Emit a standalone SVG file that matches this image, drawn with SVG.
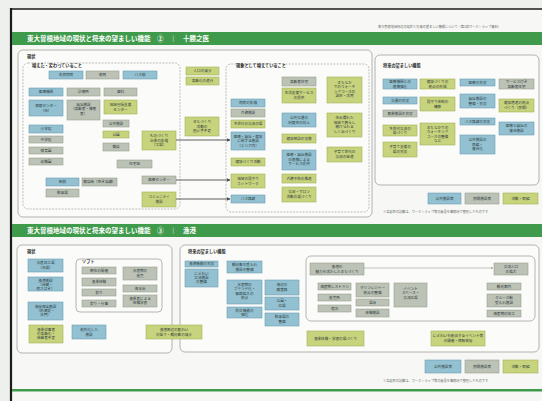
<svg xmlns="http://www.w3.org/2000/svg" width="542" height="401" viewBox="0 0 542 401">
  <style>
    .page { fill: #f7f8f6; }
    .frame { stroke: #1b1b1b; fill: none; }
    .bar { fill: #3f9b4b; }
    .bar-title { fill: #ffffff; font-family: "Noto Sans CJK JP", "Noto Sans", sans-serif; font-size: 6.5px; font-weight: bold; }
    .panel { fill: #fbfbfa; stroke: #a9aca6; stroke-width: 0.9; }
    .dash { fill: none; stroke: #a3a6a0; stroke-width: 0.7; stroke-dasharray: 2 1.2; }
    .inner { fill: none; stroke: #a3a6a0; stroke-width: 0.8; }
    .plabel { fill: #2b2b2b; font-family: "Noto Sans CJK JP", sans-serif; font-size: 4.2px; font-weight: bold; }
    .b rect { fill: #93c1d1; stroke: #6d9fb4; stroke-width: 0.6; }
    .g rect { fill: #bcc2b6; stroke: #98a08f; stroke-width: 0.6; }
    .y rect { fill: #c8d37d; stroke: #a5b257; stroke-width: 0.6; }
    .node text { fill: #2d3a3c; font-family: "Noto Sans CJK JP", sans-serif; font-size: 3.6px; text-anchor: middle; }
    .note { fill: #666a64; font-family: "Noto Sans CJK JP", sans-serif; font-size: 3.2px; }
    .conn { stroke: #4a4f4c; stroke-width: 0.9; fill: none; }
    .conn-thin { stroke: #9aa096; stroke-width: 0.6; fill: none; }
  </style>
  <defs>
    <marker id="arrow" viewBox="0 0 6 6" refX="5.5" refY="3" markerWidth="4" markerHeight="4" orient="auto">
      <path d="M0,0 L6,3 L0,6 z" fill="#4a4f4c"/>
    </marker>
    <marker id="arrow-thin" viewBox="0 0 6 6" refX="5.5" refY="3" markerWidth="4" markerHeight="4" orient="auto">
      <path d="M0,0 L6,3 L0,6 z" fill="#9aa096"/>
    </marker>
  </defs>

  <!-- sheet -->
  <rect x="0" y="0" width="542" height="401" fill="#eef0ee"/>
  <rect class="page" x="12" y="9" width="530" height="392"/>
  <line class="frame" x1="11" y1="8" x2="11" y2="401" stroke-width="2.2"/>
  <line class="frame" x1="11" y1="9" x2="542" y2="9" stroke-width="1.6"/>
  <text class="note" x="378" y="28">東大曽根地域周辺の現状と将来の望ましい機能について（第1回ワークショップ資料）</text>

  <!-- ===== section ② ===== -->
  <rect class="bar" x="12" y="32" width="530" height="13"/>
  <text class="bar-title" x="27" y="41">東大曽根地域の現状と将来の望ましい機能　②　｜　十勝之医</text>

  <rect class="panel" x="18" y="50" width="354" height="167" rx="5"/>
  <text class="plabel" x="27" y="58">現状</text>
  <rect class="dash" x="23" y="63" width="157" height="146" rx="5"/>
  <text class="plabel" x="32" y="66.5" font-weight="normal">増えた・変わっていること</text>
  <rect class="dash" x="226" y="64" width="143" height="148" rx="5"/>
  <text class="plabel" x="236" y="66.5" font-weight="normal">現象として増えていること</text>

  <rect class="panel" x="375" y="55" width="164" height="130" rx="5"/>
  <text class="plabel" x="383" y="67">将来の望ましい機能</text>

  <!-- current state, left group -->
  <g id="s2-n1" class="node b"><rect x="49" y="71" width="34" height="8"/><text x="66" y="76.3">市民病院</text></g>
  <g id="s2-n2" class="node g"><rect x="86" y="71" width="33" height="8"/><text x="102.5" y="76.3">薬局</text></g>
  <g id="s2-n3" class="node b"><rect x="123" y="71" width="34" height="8"/><text x="140" y="76.3">バス停</text></g>
  <g id="s2-n4" class="node b"><rect x="29" y="88" width="34" height="8"/><text x="46" y="93.3">医療機関</text></g>
  <g id="s2-n5" class="node g"><rect x="67" y="88" width="33" height="8"/><text x="83.5" y="93.3">診療所</text></g>
  <g id="s2-n6" class="node g"><rect x="104" y="88" width="33" height="8"/><text x="120.5" y="93.3">歯科</text></g>
  <g id="s2-n7" class="node b"><rect x="29" y="100" width="34" height="16"/><text x="46" y="106.5">保健センター</text><text x="46" y="111.5">（市）</text></g>
  <g id="s2-n8" class="node g"><rect x="67" y="100" width="33" height="20"/><text x="83.5" y="105.5">福祉施設</text><text x="83.5" y="110.3">（高齢者・障害</text><text x="83.5" y="115.1">者）</text></g>
  <g id="s2-n9" class="node y"><rect x="104" y="100" width="33" height="14"/><text x="120.5" y="105.8">地域包括支援</text><text x="120.5" y="110.6">センター</text></g>
  <g id="s2-n10" class="node g"><rect x="103" y="120" width="26" height="7"/><text x="116" y="124.8">公共施設</text></g>
  <g id="s2-n11" class="node y"><rect x="103" y="131" width="26" height="7"/><text x="116" y="135.8">公園</text></g>
  <g id="s2-n12" class="node g"><rect x="103" y="143" width="26" height="8"/><text x="116" y="148.3">商店</text></g>
  <g id="s2-n13" class="node b"><rect x="29" y="125" width="34" height="8"/><text x="46" y="130.3">小学校</text></g>
  <g id="s2-n14" class="node g"><rect x="29" y="136" width="34" height="7"/><text x="46" y="140.8">中学校</text></g>
  <g id="s2-n15" class="node g"><rect x="29" y="147" width="34" height="7"/><text x="46" y="151.8">保育園</text></g>
  <g id="s2-n16" class="node g"><rect x="29" y="158" width="34" height="7"/><text x="46" y="162.8">幼稚園</text></g>
  <g id="s2-n17" class="node g"><rect x="117" y="160" width="35" height="8"/><text x="134.5" y="165.3">住宅地</text></g>
  <g id="s2-n18" class="node b"><rect x="46" y="178" width="33" height="8"/><text x="62.5" y="183.3">駅前</text></g>
  <g id="s2-n19" class="node g"><rect x="82" y="178" width="35" height="8"/><text x="99.5" y="183.3">商店街（空き店舗）</text></g>
  <g id="s2-n20" class="node g"><rect x="46" y="189" width="33" height="8"/><text x="62.5" y="194.3">駐車場</text></g>
  <g id="s2-n21" class="node y"><rect x="142" y="131" width="34" height="19"/><text x="159" y="137">ものづくり</text><text x="159" y="141.5">企業の集積</text><text x="159" y="146">（工場）</text></g>
  <g id="s2-n22" class="node g"><rect x="142" y="176" width="34" height="8"/><text x="159" y="181.3">医療センター</text></g>
  <g id="s2-n23" class="node y"><rect x="142" y="192" width="34" height="15"/><text x="159" y="198.3">コミュニティ</text><text x="159" y="203">施設</text></g>

  <!-- current state, between the groups -->
  <g id="s2-m1" class="node y"><rect x="186" y="67" width="33" height="8"/><text x="202.5" y="72.3">人口の減少</text></g>
  <g id="s2-m2" class="node y"><rect x="186" y="77" width="33" height="8"/><text x="202.5" y="82.3">高齢化の進行</text></g>
  <g id="s2-m3" class="node y"><rect x="185" y="117" width="34" height="19"/><text x="202" y="123">まちづくり</text><text x="202" y="127.5">活動の</text><text x="202" y="132">担い手不足</text></g>

  <!-- current state, right group -->
  <g id="s2-r1" class="node b"><rect x="231" y="99" width="34" height="8"/><text x="248" y="104.3">病院の集積</text></g>
  <g id="s2-r2" class="node g"><rect x="231" y="109" width="34" height="8"/><text x="248" y="114.3">介護施設</text></g>
  <g id="s2-r3" class="node y"><rect x="231" y="120" width="34" height="8"/><text x="248" y="125.3">多世代の交流の場</text></g>
  <g id="s2-r4" class="node b"><rect x="231" y="132" width="34" height="18"/><text x="248" y="137.8">医療・福祉・健康</text><text x="248" y="142.3">に関する施設</text><text x="248" y="146.8">（エリア内）</text></g>
  <g id="s2-r5" class="node y"><rect x="231" y="158" width="34" height="8"/><text x="248" y="163.3">健康づくり活動</text></g>
  <g id="s2-r6" class="node y"><rect x="231" y="174" width="34" height="14"/><text x="248" y="179.8">地域の見守り</text><text x="248" y="184.6">ネットワーク</text></g>
  <g id="s2-r7" class="node b"><rect x="231" y="195" width="34" height="8"/><text x="248" y="200.3">バス路線</text></g>
  <g id="s2-r8" class="node g"><rect x="282" y="77" width="34" height="9"/><text x="299" y="82.8">高齢者住宅</text></g>
  <g id="s2-r9" class="node y"><rect x="282" y="88" width="34" height="15"/><text x="299" y="94.3">生活支援サービス</text><text x="299" y="99">の提供</text></g>
  <g id="s2-r10" class="node b"><rect x="282" y="113" width="34" height="14"/><text x="299" y="118.8">公共交通の</text><text x="299" y="123.6">利便性の向上</text></g>
  <g id="s2-r11" class="node y"><rect x="282" y="134" width="34" height="9"/><text x="299" y="139.8">健康相談の実施</text></g>
  <g id="s2-r12" class="node b"><rect x="282" y="150" width="34" height="20"/><text x="299" y="156">医療・福祉施設</text><text x="299" y="160.5">の連携による</text><text x="299" y="165">サービス提供</text></g>
  <g id="s2-r13" class="node y"><rect x="282" y="174" width="34" height="9"/><text x="299" y="179.8">介護予防の推進</text></g>
  <g id="s2-r14" class="node y"><rect x="282" y="187" width="34" height="15"/><text x="299" y="193.3">交流・サロン</text><text x="299" y="198">活動の場づくり</text></g>
  <g id="s2-r15" class="node y"><rect x="327" y="77" width="35" height="26"/><text x="344.5" y="83.5">まちなか</text><text x="344.5" y="88">でのウォーキ</text><text x="344.5" y="92.5">ングコースの</text><text x="344.5" y="97">設定・活用</text></g>
  <g id="s2-r16" class="node y"><rect x="327" y="113" width="35" height="24"/><text x="344.5" y="119">住み慣れた</text><text x="344.5" y="123.5">地域で暮らし</text><text x="344.5" y="128">続けられる</text><text x="344.5" y="132.5">しくみづくり</text></g>
  <g id="s2-r17" class="node y"><rect x="327" y="147" width="35" height="15"/><text x="344.5" y="153.3">子育て世代の</text><text x="344.5" y="158">交流の促進</text></g>

  <!-- desirable functions -->
  <g id="s2-f1" class="node b"><rect x="383" y="79" width="34" height="10"/><text x="400" y="83.3">医療機関との</text><text x="400" y="87.6">連携強化</text></g>
  <g id="s2-f2" class="node y"><rect x="420" y="79" width="35" height="10"/><text x="437.5" y="83.3">健康づくりの</text><text x="437.5" y="87.6">拠点の形成</text></g>
  <g id="s2-f3" class="node b"><rect x="460" y="79" width="35" height="7"/><text x="477.5" y="83.8">医療の充実</text></g>
  <g id="s2-f4" class="node g"><rect x="499" y="79" width="35" height="10"/><text x="516.5" y="83.3">サービス付き</text><text x="516.5" y="87.6">高齢者住宅</text></g>
  <g id="s2-f5" class="node b"><rect x="383" y="97" width="34" height="7"/><text x="400" y="101.8">交通の充実</text></g>
  <g id="s2-f6" class="node y"><rect x="420" y="97" width="35" height="14"/><text x="437.5" y="102.8">見守り体制の</text><text x="437.5" y="107.6">構築</text></g>
  <g id="s2-f7" class="node b"><rect x="460" y="94" width="35" height="14"/><text x="477.5" y="99.8">福祉施設の</text><text x="477.5" y="104.6">整備・充実</text></g>
  <g id="s2-f8" class="node y"><rect x="499" y="99" width="35" height="13"/><text x="516.5" y="104.3">健康増進の拠点</text><text x="516.5" y="108.8">づくり（民間）</text></g>
  <g id="s2-f9" class="node g"><rect x="383" y="110" width="34" height="7"/><text x="400" y="114.8">商業施設の充実</text></g>
  <g id="s2-f10" class="node b"><rect x="460" y="118" width="35" height="7"/><text x="477.5" y="122.8">バス路線の充実</text></g>
  <g id="s2-f11" class="node y"><rect x="383" y="125" width="34" height="11"/><text x="400" y="129.6">多世代交流の</text><text x="400" y="134">場づくり</text></g>
  <g id="s2-f12" class="node y"><rect x="420" y="123" width="35" height="22"/><text x="437.5" y="128.8">まちなかでの</text><text x="437.5" y="133.2">ウォーキング</text><text x="437.5" y="137.6">コースの整備</text><text x="437.5" y="142">など</text></g>
  <g id="s2-f13" class="node b"><rect x="499" y="122" width="35" height="13"/><text x="516.5" y="127.3">医療と福祉の</text><text x="516.5" y="131.8">複合施設</text></g>
  <g id="s2-f14" class="node y"><rect x="383" y="142" width="34" height="15"/><text x="400" y="148.3">子育て支援の</text><text x="400" y="153">場の充実</text></g>
  <g id="s2-f15" class="node b"><rect x="460" y="135" width="35" height="19"/><text x="477.5" y="141">公共施設の</text><text x="477.5" y="145.5">再編・</text><text x="477.5" y="150">複合化</text></g>

  <!-- legend ② -->
  <g id="s2-legend-a" class="node b"><rect x="428" y="193" width="33" height="11"/><text x="444.5" y="199.8">公共施設等</text></g>
  <g id="s2-legend-b" class="node g"><rect x="465" y="193" width="34" height="11"/><text x="482" y="199.8">民間施設等</text></g>
  <g id="s2-legend-c" class="node y"><rect x="503" y="193" width="35" height="11"/><text x="520.5" y="199.8">活動・取組</text></g>
  <text class="note" x="383" y="213">※各項目の記載は、ワークショップ等の意見を事務局で整理したものです</text>

  <!-- connectors ② -->
  <g id="connectors-2">
    <line class="conn" x1="176" y1="140" x2="230" y2="140" marker-end="url(#arrow)"/>
    <line class="conn" x1="176" y1="180" x2="230" y2="180" marker-end="url(#arrow)"/>
    <line class="conn" x1="176" y1="199" x2="230" y2="199" marker-end="url(#arrow)"/>
  </g>

  <!-- ===== section ③ ===== -->
  <rect class="bar" x="12" y="224" width="530" height="13"/>
  <text class="bar-title" x="27" y="233">東大曽根地域の現状と将来の望ましい機能　③　｜　漁港</text>

  <rect class="panel" x="17" y="245" width="155" height="108" rx="5"/>
  <text class="plabel" x="27" y="253">現状</text>
  <rect class="panel" x="180" y="245" width="359" height="107" rx="5"/>
  <text class="plabel" x="188" y="253">将来の望ましい機能</text>
  <rect class="inner" x="76" y="259" width="86" height="53" rx="4"/>
  <text class="plabel" x="82" y="263" font-weight="normal">ソフト</text>
  <rect class="inner" x="306" y="256" width="229" height="65" rx="5"/>

  <!-- current state ③ -->
  <g id="s3-n1" class="node b"><rect x="28" y="259" width="35" height="13"/><text x="45.5" y="264.3">水産加工場</text><text x="45.5" y="268.8">（市場）</text></g>
  <g id="s3-n2" class="node b"><rect x="28" y="277" width="35" height="14"/><text x="45.5" y="281.5">漁港施設</text><text x="45.5" y="285.6">（岸壁・</text><text x="45.5" y="289.7">荷さばき）</text></g>
  <g id="s3-n3" class="node b"><rect x="28" y="302" width="35" height="18"/><text x="45.5" y="307.5">海岸保全施設</text><text x="45.5" y="311.8">（防潮堤・</text><text x="45.5" y="316.1">水門）</text></g>
  <g id="s3-n4" class="node g"><rect x="82" y="267" width="34" height="7"/><text x="99" y="271.8">朝市の開催</text></g>
  <g id="s3-n5" class="node g"><rect x="82" y="278" width="34" height="8"/><text x="99" y="283.3">漁業体験</text></g>
  <g id="s3-n6" class="node g"><rect x="82" y="289" width="34" height="7"/><text x="99" y="293.8">釣り</text></g>
  <g id="s3-n7" class="node g"><rect x="82" y="300" width="34" height="7"/><text x="99" y="304.8">祭り・行事</text></g>
  <g id="s3-n8" class="node g"><rect x="123" y="267" width="34" height="13"/><text x="140" y="272.3">水産物の</text><text x="140" y="276.8">直売</text></g>
  <g id="s3-n9" class="node g"><rect x="123" y="285" width="34" height="7"/><text x="140" y="289.8">海水浴</text></g>
  <g id="s3-n10" class="node g"><rect x="123" y="295" width="34" height="12"/><text x="140" y="299.8">漁業者による</text><text x="140" y="304.2">体験学習</text></g>
  <g id="s3-n11" class="node y"><rect x="29" y="325" width="34" height="18"/><text x="46" y="330.5">漁業従事者</text><text x="46" y="334.8">の高齢化・</text><text x="46" y="339.1">後継者不足</text></g>
  <g id="s3-n12" class="node b"><rect x="72" y="325" width="34" height="14"/><text x="89" y="330.8">老朽化した</text><text x="89" y="335.5">施設</text></g>
  <g id="s3-n13" class="node y"><rect x="146" y="325" width="56" height="14"/><text x="174" y="330.8">漁港周辺の賑わい</text><text x="174" y="335.5">の低下・観光客の減少</text></g>

  <!-- desirable functions ③ -->
  <g id="s3-f1" class="node b"><rect x="185" y="261" width="33" height="6"/><text x="201.5" y="265.3">漁港機能の充実</text></g>
  <g id="s3-f2" class="node b"><rect x="185" y="269" width="33" height="18"/><text x="201.5" y="274.5">にぎわい</text><text x="201.5" y="278.8">交流施設</text><text x="201.5" y="283.1">の整備</text></g>
  <g id="s3-f3" class="node b"><rect x="227" y="261" width="35" height="12"/><text x="244.5" y="266">観光客の受入れ</text><text x="244.5" y="270.5">施設の整備</text></g>
  <g id="s3-f4" class="node b"><rect x="227" y="280" width="35" height="24"/><text x="244.5" y="285.8">水産物の</text><text x="244.5" y="290.2">ブランド化・</text><text x="244.5" y="294.6">販路拡大の</text><text x="244.5" y="299">拠点</text></g>
  <g id="s3-f5" class="node b"><rect x="227" y="307" width="35" height="11"/><text x="244.5" y="311.6">防災機能の</text><text x="244.5" y="316">強化</text></g>
  <g id="s3-f6" class="node b"><rect x="265" y="280" width="34" height="15"/><text x="282" y="286.3">海辺の</text><text x="282" y="291">散策路</text></g>
  <g id="s3-f7" class="node b"><rect x="265" y="297" width="34" height="13"/><text x="282" y="302.3">公園・</text><text x="282" y="306.8">広場</text></g>
  <g id="s3-f8" class="node b"><rect x="265" y="313" width="34" height="13"/><text x="282" y="318.3">駐車場の</text><text x="282" y="322.8">整備</text></g>

  <g id="s3-g1" class="node g"><rect x="310" y="263" width="54" height="12"/><text x="337" y="268">漁港の</text><text x="337" y="272.5">魅力を活かしたまちづくり</text></g>
  <g id="s3-g2" class="node g"><rect x="494" y="263" width="34" height="12"/><text x="511" y="268">交流人口</text><text x="511" y="272.5">の拡大</text></g>
  <g id="s3-g3" class="node g"><rect x="318" y="283" width="33" height="7"/><text x="334.5" y="287.8">海産物レストラン</text></g>
  <g id="s3-g4" class="node g"><rect x="318" y="294" width="33" height="7"/><text x="334.5" y="298.8">直売所</text></g>
  <g id="s3-g5" class="node g"><rect x="318" y="305" width="33" height="7"/><text x="334.5" y="309.8">宿泊</text></g>
  <g id="s3-g6" class="node g"><rect x="356" y="283" width="33" height="14"/><text x="372.5" y="288.8">マリンレジャー</text><text x="372.5" y="293.5">拠点の整備</text></g>
  <g id="s3-g7" class="node g"><rect x="356" y="299" width="33" height="7"/><text x="372.5" y="303.8">温浴</text></g>
  <g id="s3-g8" class="node g"><rect x="356" y="309" width="33" height="8"/><text x="372.5" y="314.3">体験施設</text></g>
  <g id="s3-g9" class="node g"><rect x="394" y="283" width="33" height="24"/><text x="410.5" y="289.5">イベント</text><text x="410.5" y="294">スペース・</text><text x="410.5" y="298.5">交流広場</text></g>
  <g id="s3-g10" class="node g"><rect x="487" y="283" width="34" height="7"/><text x="504" y="287.8">観光案内</text></g>
  <g id="s3-g11" class="node g"><rect x="487" y="294" width="34" height="13"/><text x="504" y="299.3">クルーズ船</text><text x="504" y="303.8">受入れ施設</text></g>
  <g id="s3-g12" class="node g"><rect x="487" y="310" width="34" height="7"/><text x="504" y="314.8">海産物の加工</text></g>

  <g id="s3-y1" class="node y"><rect x="307" y="331" width="57" height="15"/><text x="335.5" y="339.8">漁業体験・学習の場づくり</text></g>
  <g id="s3-y2" class="node y"><rect x="431" y="331" width="54" height="15"/><text x="458" y="337.3">にぎわいを創出するイベント等</text><text x="458" y="342">の開催・情報発信</text></g>

  <!-- legend ③ -->
  <g id="s3-legend-a" class="node b"><rect x="425" y="360" width="36" height="13"/><text x="443" y="367.8">公共施設等</text></g>
  <g id="s3-legend-b" class="node g"><rect x="465" y="360" width="34" height="13"/><text x="482" y="367.8">民間施設等</text></g>
  <g id="s3-legend-c" class="node y"><rect x="503" y="360" width="35" height="13"/><text x="520.5" y="367.8">活動・取組</text></g>
  <text class="note" x="383" y="382">※各項目の記載は、ワークショップ等の意見を事務局で整理したものです</text>

  <!-- connectors ③ -->
  <g id="connectors-3">
    <line class="conn-thin" x1="364" y1="268" x2="493" y2="268" marker-end="url(#arrow-thin)"/>
  </g>

  <!-- bottom rule -->
  <rect class="bar" x="12" y="389" width="530" height="2.5"/>
</svg>
